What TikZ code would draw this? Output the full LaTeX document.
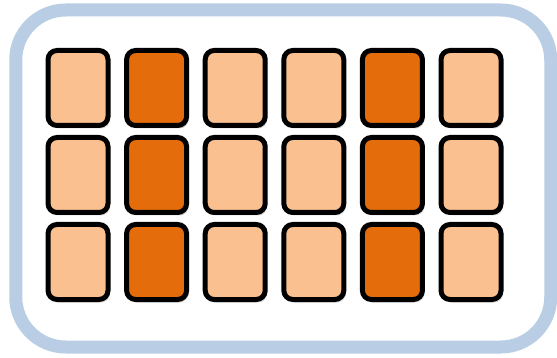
\documentclass[tikz,border=0pt]{standalone}
\usetikzlibrary{shadows}
\definecolor{framebl}{HTML}{B9CDE5}
\definecolor{lightor}{HTML}{FAC090}
\definecolor{darkor}{HTML}{E46C0A}
\tikzset{
  frame/.style={draw=framebl,line width=13pt,rounded corners=50pt,fill=white,
    minimum width=535pt,minimum height=337pt,inner sep=0pt,
    drop shadow={shadow xshift=2pt,shadow yshift=-3pt,opacity=.25}},
  cell/.style={draw=black,line width=5pt,rounded corners=9pt,inner sep=0pt,
    minimum width=60pt,minimum height=75pt,
    drop shadow={shadow xshift=2pt,shadow yshift=-3pt,opacity=.3}},
  light/.style={cell,fill=lightor},
  dark/.style={cell,fill=darkor}
}
\begin{document}
\begin{tikzpicture}[x=1pt,y=-1pt]
\useasboundingbox (0,0) rectangle (557,358);
\node[frame] (box) at (283.25,178.5) {};
% 3 rows, 6 columns; columns 2 and 5 are dark
\foreach \r in {1,2,3}{
  \foreach \c/\st in {1/light,2/dark,3/light,4/light,5/dark,6/light}{
    \node[\st] (c-\r-\c) at ({78+78.6*(\c-1)},{88+87*(\r-1)}) {};
  }
}
\end{tikzpicture}
\end{document}
